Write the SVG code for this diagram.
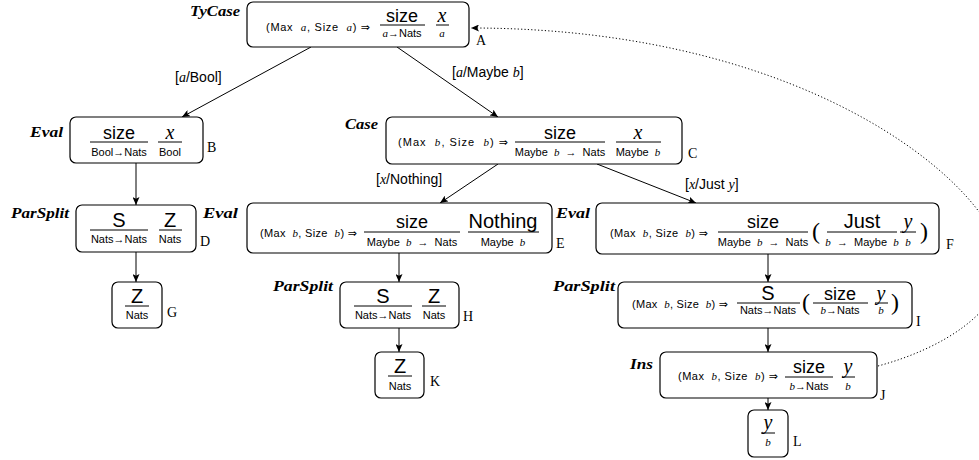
<svg xmlns="http://www.w3.org/2000/svg" width="979" height="460" viewBox="0 0 979 460">
<style>
.box{fill:#fff;stroke:#000;stroke-width:1.2}
.fr{stroke:#000;stroke-width:1}
.ss{font-family:"Liberation Sans","DejaVu Sans",sans-serif;fill:#000}
.big{font-size:18px}
.sm{font-size:11px}
.mi{font-family:"Liberation Serif","DejaVu Serif",serif;font-style:italic}
.c{text-anchor:middle}
.rule{font-family:"Liberation Serif","DejaVu Serif",serif;font-weight:bold;font-style:italic;font-size:14px;text-anchor:end}
.nl{font-family:"Liberation Serif","DejaVu Serif",serif;font-size:14px}
.lab{font-family:"Liberation Sans","DejaVu Sans",sans-serif;font-size:14px}
.par{font-family:"Liberation Serif","DejaVu Serif",serif;font-size:24px}
.edge{stroke:#000;stroke-width:1;fill:none;marker-end:url(#ah)}
.dot{stroke:#000;stroke-width:1;fill:none;stroke-dasharray:1.2 2.2;marker-end:url(#ah)}
</style>
<defs>
<marker id="ah" markerUnits="userSpaceOnUse" markerWidth="9" markerHeight="7" refX="8" refY="3.5" orient="auto">
<path d="M0,0 L8,3.5 L0,7 L1.8,3.5 z" fill="#000"/>
</marker>
</defs>

<g id="connectors">
<line class="edge" x1="311" y1="47" x2="182" y2="117"/>
<line class="edge" x1="397" y1="47" x2="498" y2="117"/>
<line class="edge" x1="136" y1="163" x2="136" y2="205"/>
<line class="edge" x1="136" y1="252" x2="136" y2="282"/>
<line class="edge" x1="498" y1="164" x2="440" y2="203"/>
<line class="edge" x1="597" y1="164" x2="696" y2="203"/>
<line class="edge" x1="399" y1="253" x2="399" y2="282"/>
<line class="edge" x1="399" y1="328" x2="399" y2="352"/>
<line class="edge" x1="768" y1="254" x2="768" y2="282"/>
<line class="edge" x1="768" y1="328" x2="768" y2="352"/>
<line class="edge" x1="768" y1="398" x2="768" y2="410"/>
<path class="dot" d="M878,366 C945,348 1002,310 1002,265 C1002,195 820,28 471,28"/>
<text class="lab" x="175" y="82">[<tspan class="mi">a</tspan>/Bool]</text>
<text class="lab" x="452" y="77">[<tspan class="mi">a</tspan>/Maybe <tspan class="mi">b</tspan>]</text>
<text class="lab" x="376" y="184">[<tspan class="mi">x</tspan>/Nothing]</text>
<text class="lab" x="685" y="189">[<tspan class="mi">x</tspan>/Just <tspan class="mi">y</tspan>]</text>
</g>

<g id="A">
<rect class="box" x="247" y="2" width="222" height="45" rx="6"/>
<text class="rule" x="240" y="16" textLength="50" lengthAdjust="spacingAndGlyphs">TyCase</text>
<text class="nl" x="476" y="45">A</text>
<text class="ss sm" x="266" y="31" textLength="104" xml:space="preserve">(Max  <tspan class="mi">a</tspan>, Size  <tspan class="mi">a</tspan>) ⇒</text>
<text class="ss big c" x="402" y="22">size</text>
<line class="fr" x1="380" y1="25" x2="425" y2="25"/>
<text class="ss sm c" x="402" y="37"><tspan class="mi">a</tspan>→Nats</text>
<text class="mi c" style="font-size:20px" x="442" y="22">x</text>
<line class="fr" x1="436" y1="25" x2="449" y2="25"/>
<text class="ss sm c mi" x="442" y="37">a</text>
</g>

<g id="B">
<rect class="box" x="70" y="117" width="133" height="46" rx="6"/>
<text class="rule" x="63" y="137" textLength="33" lengthAdjust="spacingAndGlyphs">Eval</text>
<text class="nl" x="207" y="152">B</text>
<text class="ss big c" x="119" y="139">size</text>
<line class="fr" x1="90" y1="142" x2="148" y2="142"/>
<text class="ss sm c" x="119" y="156">Bool→Nats</text>
<text class="mi c" style="font-size:20px" x="170" y="139">x</text>
<line class="fr" x1="158" y1="142" x2="182" y2="142"/>
<text class="ss sm c" x="170" y="156">Bool</text>
</g>

<g id="C">
<rect class="box" x="386" y="117" width="296" height="47" rx="6"/>
<text class="rule" x="378" y="129" textLength="33" lengthAdjust="spacingAndGlyphs">Case</text>
<text class="nl" x="688" y="158">C</text>
<text class="ss sm" x="398" y="146" textLength="110" xml:space="preserve">(Max  <tspan class="mi">b</tspan>, Size  <tspan class="mi">b</tspan>) ⇒</text>
<text class="ss big c" x="560" y="139">size</text>
<line class="fr" x1="515" y1="142" x2="605" y2="142"/>
<text class="ss sm c" x="560" y="156" xml:space="preserve">Maybe  <tspan class="mi">b</tspan>  →  Nats</text>
<text class="mi c" style="font-size:20px" x="638" y="139">x</text>
<line class="fr" x1="616" y1="142" x2="661" y2="142"/>
<text class="ss sm c" x="638" y="156" xml:space="preserve">Maybe  <tspan class="mi">b</tspan></text>
</g>

<g id="D">
<rect class="box" x="76" y="205" width="120" height="47" rx="6"/>
<text class="rule" x="69" y="218" textLength="58" lengthAdjust="spacingAndGlyphs">ParSplit</text>
<text class="nl" x="200" y="246">D</text>
<text class="ss c" style="font-size:20px" x="119" y="227">S</text>
<line class="fr" x1="90" y1="230" x2="148" y2="230"/>
<text class="ss sm c" x="119" y="243">Nats→Nats</text>
<text class="ss c" style="font-size:20px" x="170" y="227">Z</text>
<line class="fr" x1="159" y1="230" x2="182" y2="230"/>
<text class="ss sm c" x="170" y="243">Nats</text>
</g>

<g id="E">
<rect class="box" x="247" y="203" width="305" height="50" rx="6"/>
<text class="rule" x="238" y="218" textLength="35" lengthAdjust="spacingAndGlyphs">Eval</text>
<text class="nl" x="556" y="248">E</text>
<text class="ss sm" x="260" y="237" textLength="97" xml:space="preserve">(Max  <tspan class="mi">b</tspan>, Size  <tspan class="mi">b</tspan>) ⇒</text>
<text class="ss big c" x="412" y="228">size</text>
<line class="fr" x1="364" y1="232" x2="460" y2="232"/>
<text class="ss sm c" x="412" y="246" xml:space="preserve">Maybe  <tspan class="mi">b</tspan>  →  Nats</text>
<text class="ss c" style="font-size:20px" x="503" y="228">Nothing</text>
<line class="fr" x1="468" y1="232" x2="539" y2="232"/>
<text class="ss sm c" x="503" y="246" xml:space="preserve">Maybe  <tspan class="mi">b</tspan></text>
</g>

<g id="F">
<rect class="box" x="596" y="203" width="343" height="51" rx="6"/>
<text class="rule" x="590" y="218" textLength="34" lengthAdjust="spacingAndGlyphs">Eval</text>
<text class="nl" x="946" y="249">F</text>
<text class="ss sm" x="610" y="237" textLength="98" xml:space="preserve">(Max  <tspan class="mi">b</tspan>, Size  <tspan class="mi">b</tspan>) ⇒</text>
<text class="ss big c" x="763" y="228">size</text>
<line class="fr" x1="718" y1="232" x2="808" y2="232"/>
<text class="ss sm c" x="763" y="246" xml:space="preserve">Maybe  <tspan class="mi">b</tspan>  →  Nats</text>
<text class="par" x="812" y="239">(</text>
<text class="ss c" style="font-size:20px" x="862" y="228">Just</text>
<line class="fr" x1="827" y1="232" x2="897" y2="232"/>
<text class="ss sm c" x="862" y="246" xml:space="preserve"><tspan class="mi">b</tspan>  →  Maybe  <tspan class="mi">b</tspan></text>
<text class="mi c" style="font-size:20px" x="908" y="228">y</text>
<line class="fr" x1="900" y1="232" x2="916" y2="232"/>
<text class="mi c sm" x="908" y="246">b</text>
<text class="par" x="920" y="239">)</text>
</g>

<g id="G">
<rect class="box" x="112" y="282" width="50" height="46" rx="6"/>
<text class="nl" x="167" y="317">G</text>
<text class="ss c" style="font-size:20px" x="137" y="303">Z</text>
<line class="fr" x1="125" y1="306" x2="149" y2="306"/>
<text class="ss sm c" x="137" y="319">Nats</text>
</g>

<g id="H">
<rect class="box" x="340" y="282" width="119" height="46" rx="6"/>
<text class="rule" x="333" y="291" textLength="60" lengthAdjust="spacingAndGlyphs">ParSplit</text>
<text class="nl" x="463" y="321">H</text>
<text class="ss c" style="font-size:20px" x="383" y="303">S</text>
<line class="fr" x1="354" y1="306" x2="412" y2="306"/>
<text class="ss sm c" x="383" y="319">Nats→Nats</text>
<text class="ss c" style="font-size:20px" x="434" y="303">Z</text>
<line class="fr" x1="422" y1="306" x2="446" y2="306"/>
<text class="ss sm c" x="434" y="319">Nats</text>
</g>

<g id="I">
<rect class="box" x="618" y="282" width="294" height="46" rx="6"/>
<text class="rule" x="615" y="291" textLength="62" lengthAdjust="spacingAndGlyphs">ParSplit</text>
<text class="nl" x="916" y="326">I</text>
<text class="ss sm" x="632" y="308" textLength="96" xml:space="preserve">(Max  <tspan class="mi">b</tspan>, Size  <tspan class="mi">b</tspan>) ⇒</text>
<text class="ss c" style="font-size:20px" x="768" y="300">S</text>
<line class="fr" x1="737" y1="303" x2="800" y2="303"/>
<text class="ss sm c" x="768" y="314">Nats→Nats</text>
<text class="par" x="802" y="310">(</text>
<text class="ss big c" x="840" y="300">size</text>
<line class="fr" x1="813" y1="303" x2="868" y2="303"/>
<text class="ss sm c" x="840" y="314"><tspan class="mi">b</tspan>→Nats</text>
<text class="mi c" style="font-size:20px" x="881" y="300">y</text>
<line class="fr" x1="875" y1="303" x2="888" y2="303"/>
<text class="mi c sm" x="881" y="314">b</text>
<text class="par" x="891" y="310">)</text>
</g>

<g id="J">
<rect class="box" x="660" y="352" width="217" height="46" rx="6"/>
<text class="rule" x="653" y="369" textLength="23" lengthAdjust="spacingAndGlyphs">Ins</text>
<text class="nl" x="880" y="400">J</text>
<text class="ss sm" x="678" y="380" textLength="100" xml:space="preserve">(Max  <tspan class="mi">b</tspan>, Size  <tspan class="mi">b</tspan>) ⇒</text>
<text class="ss big c" x="809" y="373">size</text>
<line class="fr" x1="785" y1="377" x2="833" y2="377"/>
<text class="ss sm c" x="809" y="390"><tspan class="mi">b</tspan>→Nats</text>
<text class="mi c" style="font-size:20px" x="848" y="373">y</text>
<line class="fr" x1="842" y1="377" x2="855" y2="377"/>
<text class="mi c sm" x="848" y="390">b</text>
</g>

<g id="K">
<rect class="box" x="375" y="352" width="49" height="46" rx="6"/>
<text class="nl" x="430" y="386">K</text>
<text class="ss c" style="font-size:20px" x="400" y="373">Z</text>
<line class="fr" x1="388" y1="376" x2="412" y2="376"/>
<text class="ss sm c" x="400" y="390">Nats</text>
</g>

<g id="L">
<rect class="box" x="748" y="410" width="40" height="47" rx="6"/>
<text class="nl" x="793" y="446">L</text>
<text class="mi c" style="font-size:20px" x="768" y="429">y</text>
<line class="fr" x1="761" y1="433" x2="775" y2="433"/>
<text class="mi c sm" x="768" y="446">b</text>
</g>
</svg>
